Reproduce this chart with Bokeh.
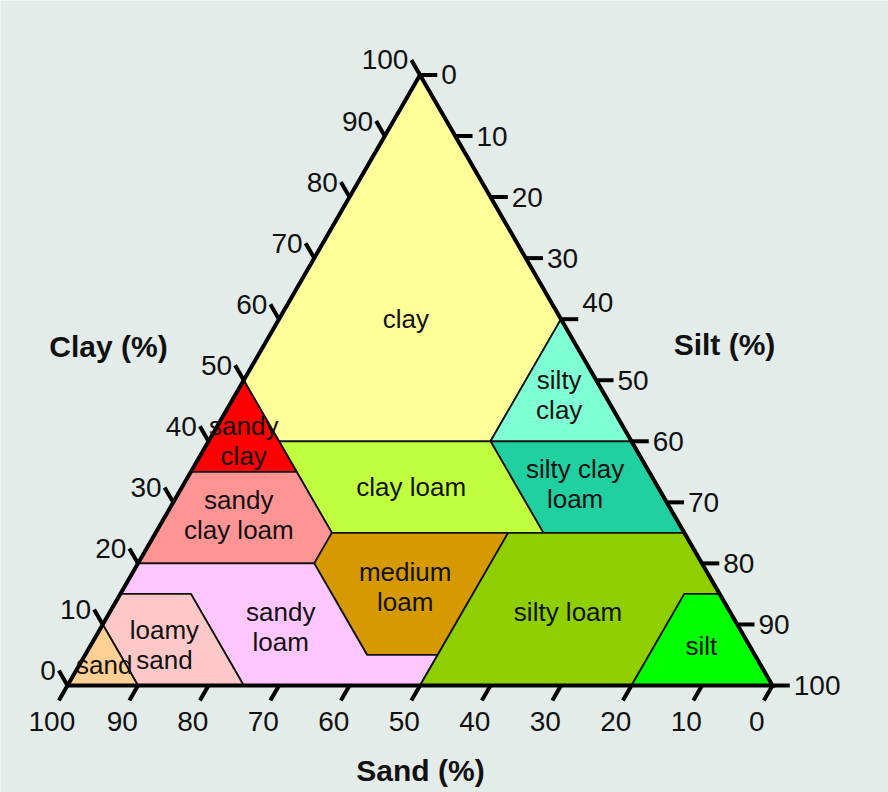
import numpy as np
from bokeh.plotting import figure
from bokeh.core.properties import value
from bokeh.embed import file_html
from bokeh.resources import INLINE

# ---------------- data (percentages: (clay, silt)) ----------------
region_names = ["clay", "silty clay", "silty clay loam", "clay loam", "sandy clay",
                "sandy clay loam", "medium loam", "sandy loam", "loamy sand", "sand",
                "silty loam", "silt"]
region_labels = ["clay", "silty\nclay", "silty clay\nloam", "clay loam", "sandy\nclay",
                 "sandy\nclay loam", "medium\nloam", "sandy\nloam", "loamy\nsand", "sand",
                 "silty loam", "silt"]
region_colors = ["#FFFF99", "#7FFFD4", "#20D0A0", "#C0FF40", "#FF0000",
                 "#FF9494", "#D69A00", "#FFC6FF", "#FFC8C8", "#FFD093",
                 "#8FCF00", "#00FF00"]

clay_v = [(100, 0), (60, 40), (40, 40), (40, 10), (50, 0)]
silty_clay_v = [(60, 40), (40, 60), (40, 40)]
silty_clay_loam_v = [(40, 40), (40, 60), (25, 75), (25, 55)]
clay_loam_v = [(40, 10), (40, 40), (25, 55), (25, 25)]
sandy_clay_v = [(50, 0), (35, 15), (35, 0)]
sandy_clay_loam_v = [(35, 0), (35, 15), (25, 25), (20, 25), (20, 0)]
medium_loam_v = [(25, 25), (25, 50), (5, 50), (5, 40), (20, 25)]
sandy_loam_v = [(20, 0), (20, 25), (5, 40), (5, 50), (0, 50), (0, 25), (15, 10), (15, 0)]
loamy_sand_v = [(15, 0), (15, 10), (0, 25), (0, 10), (10, 0)]
sand_v = [(10, 0), (0, 10), (0, 0)]
silty_loam_v = [(25, 50), (25, 75), (15, 85), (15, 80), (0, 80), (0, 50)]
silt_v = [(15, 80), (15, 85), (0, 100), (0, 80)]
region_vertices = [clay_v, silty_clay_v, silty_clay_loam_v, clay_loam_v, sandy_clay_v,
                   sandy_clay_loam_v, medium_loam_v, sandy_loam_v, loamy_sand_v, sand_v,
                   silty_loam_v, silt_v]

# label anchor points (clay, silt)
label_points = [(60, 18), (47.5, 46), (33, 55.5), (32.5, 32.5), (40, 5),
                (28, 10.3), (16.2, 39.8), (9.5, 25.5), (6.7, 10.4), (3.4, 3.5),
                (12, 65), (6.4, 86.7)]

tick_values = list(range(0, 101, 10))
tick_labels = [str(v) for v in tick_values]

axis_titles = ["Clay (%)", "Silt (%)", "Sand (%)"]

# ---------------- geometry helpers ----------------
S3 = np.sqrt(3) / 2


def tern(clay, silt):
    return silt + clay / 2.0, clay * S3


W, H = 888, 792
PX = 7.05  # pixels per percent
OX, OY = 67, 685  # pixel position of the 100 % sand corner
x_start = -OX / PX
y_start = -(H - OY) / PX

p = figure(width=W, height=H, output_backend="svg", toolbar_location=None,
           x_range=(x_start, x_start + W / PX), y_range=(y_start, y_start + H / PX),
           min_border=0)
p.axis.visible = False
p.grid.visible = False
p.outline_line_color = None
p.background_fill_color = "#E4ECEA"
p.border_fill_color = "#E4ECEA"

FONT = value("Liberation Sans")

# regions
xs, ys = [], []
for verts in region_vertices:
    pts = [tern(c, s) for c, s in verts]
    xs.append([q[0] for q in pts])
    ys.append([q[1] for q in pts])
p.patches(xs, ys, fill_color=region_colors, line_color="#111111", line_width=1.8)

# triangle outline
tri = [tern(0, 0), tern(0, 100), tern(100, 0), tern(0, 0)]
p.line([q[0] for q in tri], [q[1] for q in tri], line_color="black", line_width=4,
       line_join="miter")

# ticks
L = 2.45
cx0, cy0, cx1, cy1 = [], [], [], []
sx0, sy0, sx1, sy1 = [], [], [], []
dx0, dy0, dx1, dy1 = [], [], [], []
for v in tick_values:
    # clay (left edge)
    x, y = tern(v, 0)
    cx0.append(x); cy0.append(y); cx1.append(x - L * 0.5); cy1.append(y + L * S3)
    # silt (right edge)
    x, y = tern(100 - v, v)
    sx0.append(x); sy0.append(y); sx1.append(x + L); sy1.append(y)
    # sand (bottom edge)
    x, y = tern(0, 100 - v)
    dx0.append(x); dy0.append(y); dx1.append(x - L * 0.5); dy1.append(y - L * S3)

for a, b, c, d in [(cx0, cy0, cx1, cy1), (sx0, sy0, sx1, sy1), (dx0, dy0, dx1, dy1)]:
    p.segment(a, b, c, d, line_color="black", line_width=4)

TK = "28px"
p.text([x - 3 / PX for x in cx1], cy1, text=tick_labels, text_font=FONT,
       text_font_size=TK, text_align="right", text_baseline="alphabetic",
       text_color="#111111")
sly = [y + (17 / PX if v == 40 else 0) for y, v in zip(sy1, tick_values)]
p.text([x + 4 / PX for x in sx1], sly, text=tick_labels, text_font=FONT,
       text_font_size=TK, text_align="left", text_baseline="middle",
       text_color="#111111")
p.text([x - 7 / PX for x in dx1], [y - 21 / PX for y in dy1], text=tick_labels,
       text_font=FONT, text_font_size=TK, text_align="center", text_baseline="middle",
       text_color="#111111")

# region labels
lx, ly = [], []
for c, s in label_points:
    x, y = tern(c, s)
    lx.append(x); ly.append(y)
p.text(lx, ly, text=region_labels, text_font=FONT, text_font_size="26px",
       text_align="center", text_baseline="middle", text_line_height=1.0,
       text_color="#111111")

# axis titles
title_x = [(108 - OX) / PX, (724 - OX) / PX, (420 - OX) / PX]
title_y = [(OY - 346) / PX, (OY - 344) / PX, (OY - 770) / PX]
p.text(title_x, title_y, text=axis_titles, text_font=FONT, text_font_size="30px",
       text_font_style="bold", text_align="center", text_baseline="middle",
       text_color="#111111")

open("out.html", "w").write(file_html(p, INLINE))
